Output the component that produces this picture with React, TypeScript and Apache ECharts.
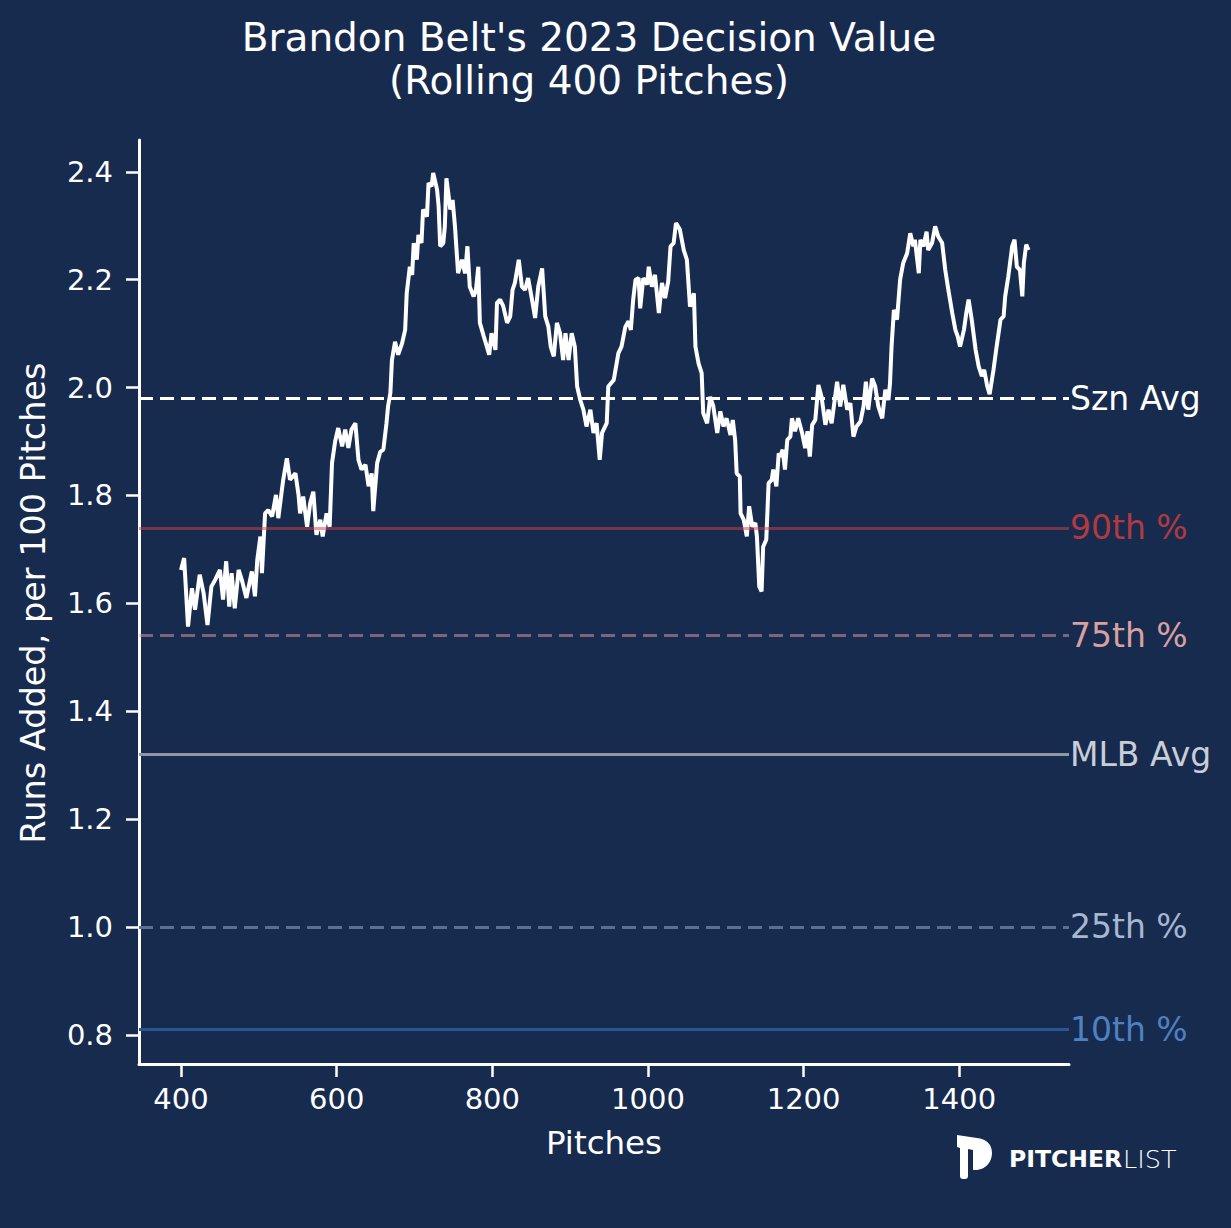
import React, { useEffect, useRef } from "react";
import * as echarts from "echarts";

const pitches = [
  400, 404, 409, 414, 418, 424, 429, 434, 439, 444, 450, 454, 458, 462, 465, 469, 474, 478, 484, 491,
  495, 498, 502, 504, 508, 512, 517, 522, 525, 531, 536, 540, 547, 551, 553, 557, 562, 566, 570, 574,
  579, 582, 587, 591, 594, 598, 602, 607, 611, 615, 619, 624, 628, 632, 637, 641, 645, 647, 652, 656,
  660, 664, 666, 669, 671, 675, 679, 684, 688, 690, 694, 697, 699, 703, 705, 709, 711, 716, 718, 722,
  724, 729, 731, 733, 737, 739, 741, 746, 749, 752, 756, 761, 765, 768, 771, 776, 779, 782, 784, 789,
  793, 796, 799, 804, 806, 810, 814, 819, 823, 826, 829, 834, 838, 842, 846, 851, 855, 859, 864, 868,
  872, 875, 879, 883, 887, 891, 894, 898, 902, 906, 909, 913, 917, 921, 926, 930, 934, 938, 941, 947,
  949, 956, 962, 966, 971, 975, 978, 981, 984, 988, 990, 994, 999, 1001, 1005, 1009, 1014, 1018, 1022, 1026,
  1029, 1033, 1036, 1041, 1046, 1050, 1054, 1059, 1061, 1065, 1069, 1071, 1076, 1080, 1084, 1089, 1093, 1097, 1101, 1106,
  1109, 1112, 1114, 1118, 1119, 1123, 1127, 1130, 1134, 1138, 1140, 1143, 1146, 1148, 1152, 1155, 1159, 1161, 1165, 1168,
  1170, 1173, 1176, 1179, 1183, 1185, 1189, 1193, 1198, 1202, 1205, 1208, 1211, 1215, 1219, 1223, 1228, 1232, 1236, 1243,
  1247, 1251, 1256, 1260, 1264, 1268, 1273, 1277, 1280, 1283, 1288, 1292, 1296, 1301, 1305, 1309, 1311, 1313, 1316, 1320,
  1324, 1328, 1333, 1337, 1341, 1343, 1348, 1350, 1354, 1358, 1360, 1365, 1369, 1373, 1378, 1382, 1386, 1391, 1395, 1398,
  1401, 1406, 1409, 1412, 1416, 1421, 1425, 1429, 1432, 1436, 1439, 1444, 1448, 1453, 1457, 1459, 1463, 1468, 1471, 1474,
  1478, 1481, 1483, 1486, 1489,
];

const runsAdded = [
  1.662, 1.684, 1.557, 1.628, 1.588, 1.653, 1.619, 1.56, 1.631, 1.644, 1.662, 1.607, 1.678, 1.594, 1.656, 1.591, 1.662, 1.644, 1.61, 1.659,
  1.613, 1.681, 1.724, 1.656, 1.767, 1.773, 1.761, 1.801, 1.758, 1.826, 1.869, 1.829, 1.841, 1.801, 1.767, 1.798, 1.742, 1.786, 1.807, 1.727,
  1.755, 1.724, 1.767, 1.742, 1.86, 1.9, 1.925, 1.891, 1.922, 1.888, 1.922, 1.934, 1.866, 1.848, 1.857, 1.817, 1.841, 1.771, 1.86, 1.881,
  1.885, 1.934, 1.965, 1.99, 2.051, 2.085, 2.061, 2.082, 2.107, 2.175, 2.224, 2.209, 2.268, 2.237, 2.283, 2.268, 2.33, 2.317, 2.379, 2.373,
  2.398, 2.367, 2.336, 2.262, 2.268, 2.299, 2.388, 2.33, 2.348, 2.299, 2.212, 2.237, 2.212, 2.262, 2.187, 2.169, 2.181, 2.224, 2.12, 2.095,
  2.076, 2.061, 2.101, 2.07, 2.157, 2.163, 2.151, 2.12, 2.132, 2.181, 2.194, 2.237, 2.187, 2.181, 2.203, 2.163, 2.129, 2.187, 2.221, 2.132,
  2.113, 2.076, 2.058, 2.12, 2.101, 2.051, 2.101, 2.051, 2.101, 2.076, 2.002, 1.977, 1.959, 1.928, 1.959, 1.916, 1.934, 1.866, 1.916, 1.934,
  2.002, 2.014, 2.064, 2.076, 2.113, 2.123, 2.107, 2.163, 2.2, 2.203, 2.147, 2.203, 2.191, 2.224, 2.187, 2.209, 2.138, 2.194, 2.166, 2.197,
  2.262, 2.268, 2.305, 2.293, 2.255, 2.237, 2.15, 2.175, 2.076, 2.045, 2.027, 1.953, 1.934, 1.983, 1.965, 1.916, 1.956, 1.928, 1.943, 1.912,
  1.94, 1.903, 1.841, 1.835, 1.767, 1.755, 1.724, 1.78, 1.742, 1.749, 1.724, 1.631, 1.622, 1.705, 1.718, 1.823, 1.829, 1.848, 1.817, 1.878,
  1.872, 1.885, 1.848, 1.903, 1.909, 1.943, 1.919, 1.943, 1.916, 1.888, 1.919, 1.872, 1.931, 1.94, 2.005, 1.983, 1.931, 1.959, 1.934, 2.011,
  1.965, 2.005, 1.959, 1.971, 1.909, 1.928, 1.937, 1.965, 2.011, 1.959, 2.017, 2.002, 1.965, 1.943, 1.996, 1.977, 2.008, 2.076, 2.144, 2.126,
  2.2, 2.231, 2.249, 2.286, 2.262, 2.274, 2.212, 2.274, 2.262, 2.289, 2.255, 2.268, 2.299, 2.28, 2.268, 2.218, 2.181, 2.138, 2.107, 2.095,
  2.076, 2.107, 2.138, 2.163, 2.126, 2.07, 2.039, 2.021, 2.033, 2.002, 1.988, 2.033, 2.076, 2.126, 2.132, 2.169, 2.206, 2.262, 2.274, 2.224,
  2.218, 2.169, 2.231, 2.265, 2.255,
];

const refNames = ["Szn Avg", "90th %", "75th %", "MLB Avg", "25th %", "10th %"];
const refValues = [1.983, 1.742, 1.545, 1.321, 1.002, 0.811];

const xTicks = [400, 600, 800, 1000, 1200, 1400];
const yTicks = [0.8, 1.0, 1.2, 1.4, 1.6, 1.8, 2.0, 2.2, 2.4];

const titleLines = ["Brandon Belt's 2023 Decision Value", "(Rolling 400 Pitches)"];
const xName = "Pitches";
const yName = "Runs Added, per 100 Pitches";

const refStyles = [
  { line: "#ffffff", label: "#ffffff", dashed: true },
  { line: "rgba(217,61,66,0.5)", label: "#b23a3f", dashed: false },
  { line: "rgba(232,160,168,0.5)", label: "#d9a0a0", dashed: true },
  { line: "#8f96a4", label: "#c9cdd6", dashed: false },
  { line: "#5b6f92", label: "#a7b6d1", dashed: true },
  { line: "#2a5696", label: "#4f80c0", dashed: false },
];

const LOGO_D =
  "M0 0 L20 3 C29 4 35 9 35 18 C35 27 29 34 20 35 L16 35 L16 15 L11 14 L11 41 C11 43 10 44 8 44 L6 44 C4 44 3 43 3 41 L3 13 L0 12 Z";
echarts.graphic.registerShape("logo", echarts.graphic.extendPath(LOGO_D, {}));

const BG = "#172b4f";
const FONT = "DejaVu Sans";

export default function App() {
  const ref = useRef<HTMLDivElement>(null);

  useEffect(() => {
    document.body.style.margin = "0";
    document.body.style.background = BG;
    const chart = echarts.init(ref.current!, null, { renderer: "svg" });
    const lineData = pitches.map((p, i) => [p, runsAdded[i]]);
    const markData = refValues.map((v, i) => ({
      yAxis: v,
      name: refNames[i],
      lineStyle: {
        color: refStyles[i].line,
        width: 3,
        type: refStyles[i].dashed ? [14, 7] : "solid",
      },
      label: {
        show: true,
        position: "end",
        formatter: refNames[i],
        color: refStyles[i].label,
        fontSize: 33,
        fontFamily: FONT,
        distance: 1,
      },
    }));
    chart.setOption({
      animation: false,
      backgroundColor: BG,
      grid: { left: 139, right: 162, top: 140, bottom: 164 },
      xAxis: {
        type: "value",
        min: 346,
        max: 1541,
        axisLine: { show: true, onZero: false, lineStyle: { color: "#ffffff", width: 3 } },
        axisTick: { show: true, length: 13, lineStyle: { color: "#ffffff", width: 2.5 }, customValues: xTicks },
        axisLabel: {
          customValues: xTicks,
          color: "#ffffff",
          fontSize: 29,
          fontFamily: FONT,
          margin: 20,
          formatter: (v: number) => String(Math.round(v)),
        },
        splitLine: { show: false },
      },
      yAxis: {
        type: "value",
        min: 0.746,
        max: 2.459,
        axisLine: { show: true, onZero: false, lineStyle: { color: "#ffffff", width: 3 } },
        axisTick: { show: true, length: 13, lineStyle: { color: "#ffffff", width: 2.5 }, customValues: yTicks },
        axisLabel: {
          customValues: yTicks,
          color: "#ffffff",
          fontSize: 29,
          fontFamily: FONT,
          margin: 26,
          formatter: (v: number) => v.toFixed(1),
        },
        splitLine: { show: false },
      },
      series: [
        {
          type: "line",
          data: lineData,
          showSymbol: false,
          symbol: "none",
          lineStyle: { color: "#ffffff", width: 4 },
          z: 2,
          silent: true,
        },
        {
          type: "line",
          data: [],
          z: 3,
          silent: true,
          markLine: {
            silent: true,
            symbol: ["none", "none"],
            data: markData,
          },
        },
      ],
      graphic: [
        {
          type: "text",
          x: 589,
          y: 37,
          style: { text: titleLines[0], fill: "#ffffff", fontSize: 39, fontFamily: FONT, align: "center", verticalAlign: "middle" },
        },
        {
          type: "text",
          x: 589,
          y: 80,
          style: { text: titleLines[1], fill: "#ffffff", fontSize: 39, fontFamily: FONT, align: "center", verticalAlign: "middle" },
        },
        {
          type: "text",
          x: 604,
          y: 1143,
          style: { text: xName, fill: "#ffffff", fontSize: 32.5, fontFamily: FONT, align: "center", verticalAlign: "middle" },
        },
        {
          type: "text",
          x: 33,
          y: 603,
          rotation: Math.PI / 2,
          style: { text: yName, fill: "#ffffff", fontSize: 33.5, fontFamily: FONT, align: "center", verticalAlign: "middle" },
        },
        {
          type: "logo",
          x: 957,
          y: 1135,
          scaleX: 1,
          scaleY: 1,
          style: { fill: "#ffffff" },
        },
        {
          type: "text",
          x: 1009,
          y: 1159,
          style: { text: "PITCHER", fill: "#ffffff", fontSize: 23.5, fontWeight: "bold", fontFamily: FONT, align: "left", verticalAlign: "middle" },
        },
        {
          type: "text",
          x: 1123,
          y: 1159,
          style: { text: "LIST", fill: "#ffffff", fontSize: 25.5, fontWeight: "lighter", fontFamily: FONT, align: "left", verticalAlign: "middle" },
        },
      ],
    });
    return () => chart.dispose();
  }, []);

  return <div ref={ref} style={{ width: 1231, height: 1228, background: BG }} />;
}
